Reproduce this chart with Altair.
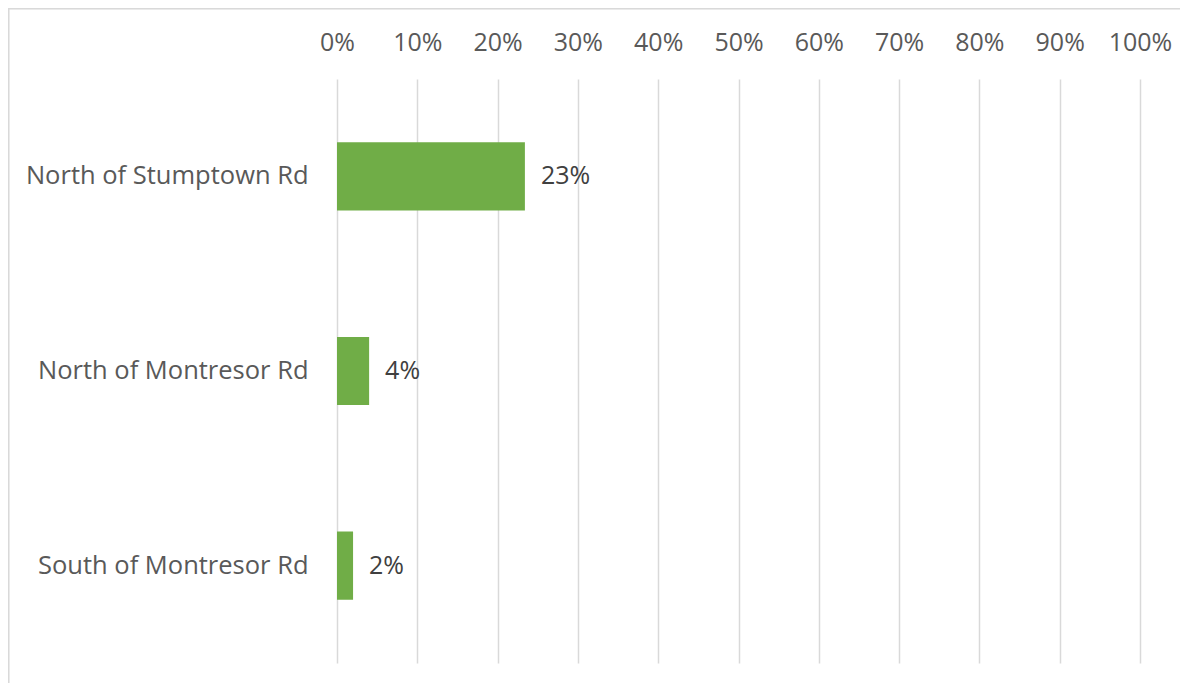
import altair as alt
import pandas as pd

categories = ["North of Stumptown Rd", "North of Montresor Rd", "South of Montresor Rd"]
values = [0.234, 0.04, 0.02]
tick_values = [0, 0.1, 0.2, 0.3, 0.4, 0.5, 0.6, 0.7, 0.8, 0.9, 1.0]

df = pd.DataFrame({"cat": categories, "val": values})

W, H = 803, 584
FONT = "Open Sans"
FS = 25.5
GREY = "#595959"

x = alt.X("val:Q", scale=alt.Scale(domain=[0, 1], nice=False),
          axis=alt.Axis(orient="top", values=tick_values, format=".0%", title=None,
                        domain=False, ticks=False, grid=True, gridColor="#D9D9D9",
                        gridWidth=1.5, labelFont=FONT, labelFontSize=25,
                        labelColor=GREY, labelPadding=24, labelFlush=False))
y = alt.Y("cat:N", sort=categories,
          scale=alt.Scale(paddingInner=0.65, paddingOuter=0.325),
          axis=alt.Axis(title=None, domain=False, ticks=False, labelFont=FONT,
                        labelFontSize=FS, labelColor=GREY, labelPadding=29,
                        labelLimit=400))

bars = alt.Chart(df).mark_bar(color="#70AD47").encode(x=x, y=y)
labels = alt.Chart(df).mark_text(align="left", baseline="middle", dx=16, font=FONT,
                                 fontSize=25, color="#404040").encode(
    x="val:Q", y=alt.Y("cat:N", sort=categories), text=alt.Text("val:Q", format=".0%"))

frame_left = alt.Chart(df).mark_rule(color="#D9D9D9", strokeWidth=2.5).encode(
    x=alt.value(-329), y=alt.value(-71), y2=alt.value(H + 20))
frame_top = alt.Chart(df).mark_rule(color="#D9D9D9", strokeWidth=2.5).encode(
    x=alt.value(-329), x2=alt.value(W + 40), y=alt.value(-71))

chart = alt.layer(bars, labels, frame_left, frame_top).properties(
    width=W, height=H,
    autosize=alt.AutoSizeParams(type="none"),
    padding={"left": 329, "top": 71, "right": 40, "bottom": 20},
).configure(background="white").configure_view(strokeWidth=0, stroke=None)

chart.save("out.html", embed_options={"renderer": "svg", "actions": False})
